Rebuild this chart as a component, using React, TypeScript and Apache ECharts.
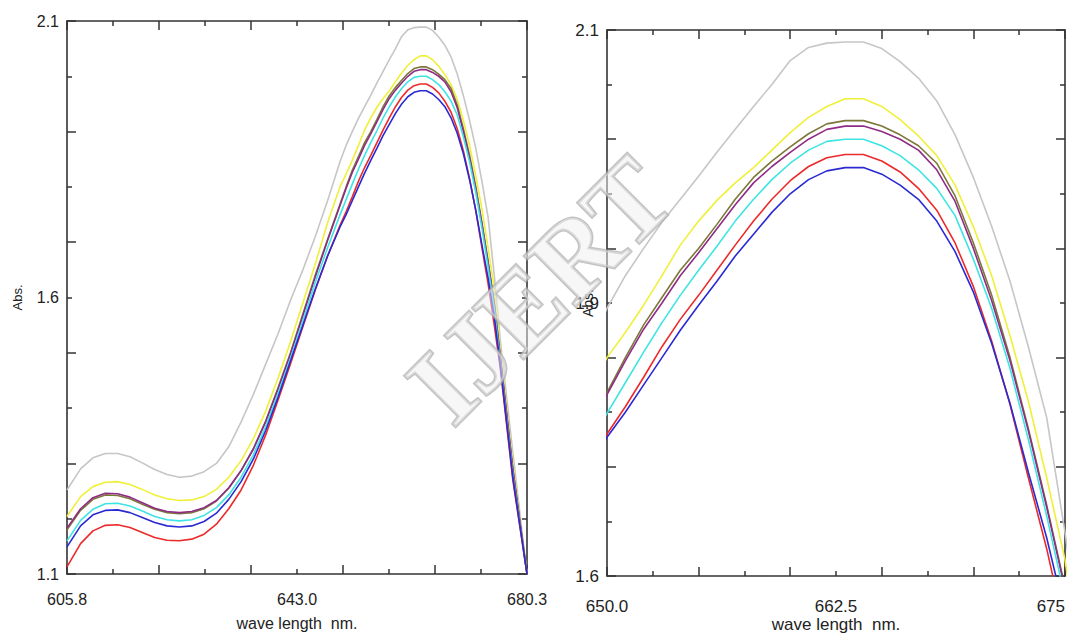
import React, { useEffect, useRef } from "react";
import * as echarts from "echarts";

// Wavelength grid (nm) shared by both panels
const WAVELENGTHS = [605.8, 608, 610, 612, 614, 616, 618, 620, 622, 624, 626, 628, 630, 632, 634, 636, 638, 640, 642, 644, 646, 648, 650,
  651, 652, 653, 654, 655, 656, 657, 658, 659, 660, 661, 662, 663, 664, 665, 666, 667, 668, 669, 670, 671, 672, 673, 674, 675,
  676, 678, 680.3];

const GRAY = [1.252, 1.29, 1.31, 1.318, 1.318, 1.312, 1.301, 1.289, 1.28, 1.275, 1.277, 1.285, 1.30, 1.33, 1.375, 1.425, 1.48, 1.535, 1.595, 1.65, 1.71, 1.775, 1.845,
  1.875, 1.90, 1.924, 1.945, 1.966, 1.988, 2.009, 2.03, 2.05, 2.072, 2.084, 2.088, 2.089, 2.089, 2.083, 2.071, 2.056, 2.035, 2.004, 1.965, 1.92, 1.87, 1.81, 1.745, 1.64,
  1.52, 1.32, 1.1];
const YELLOW = [1.204, 1.24, 1.258, 1.266, 1.267, 1.262, 1.253, 1.243, 1.236, 1.233, 1.234, 1.24, 1.253, 1.275, 1.305, 1.345, 1.395, 1.455, 1.52, 1.59, 1.66, 1.735, 1.80,
  1.823, 1.848, 1.875, 1.903, 1.925, 1.944, 1.96, 1.974, 1.99, 2.006, 2.02, 2.03, 2.037, 2.037, 2.03, 2.018, 2.003, 1.985, 1.958, 1.92, 1.875, 1.82, 1.76, 1.69, 1.615,
  1.50, 1.30, 1.1];
const OLIVE = [1.18, 1.215, 1.235, 1.243, 1.242, 1.236, 1.226, 1.217, 1.211, 1.209, 1.211, 1.218, 1.232, 1.255, 1.287, 1.327, 1.377, 1.437, 1.50, 1.57, 1.64, 1.705, 1.768,
  1.80, 1.83, 1.855, 1.88, 1.90, 1.922, 1.945, 1.965, 1.98, 1.993, 2.005, 2.014, 2.017, 2.017, 2.012, 2.004, 1.994, 1.978, 1.948, 1.905, 1.857, 1.80, 1.735, 1.665, 1.59,
  1.49, 1.29, 1.1];
const PURPLE = [1.183, 1.218, 1.238, 1.246, 1.245, 1.239, 1.229, 1.219, 1.213, 1.211, 1.213, 1.22, 1.233, 1.256, 1.287, 1.326, 1.376, 1.435, 1.498, 1.567, 1.637, 1.703, 1.766,
  1.797, 1.826, 1.85, 1.875, 1.896, 1.918, 1.94, 1.96, 1.975, 1.988, 2.0, 2.009, 2.012, 2.012, 2.007, 2.0, 1.99, 1.972, 1.943, 1.9, 1.852, 1.797, 1.733, 1.663, 1.588,
  1.49, 1.29, 1.1];
const CYAN = [1.16, 1.197, 1.217, 1.227, 1.228, 1.223, 1.214, 1.204, 1.198, 1.196, 1.198, 1.206, 1.22, 1.243, 1.275, 1.316, 1.367, 1.427, 1.49, 1.558, 1.627, 1.69, 1.749,
  1.777, 1.805, 1.832, 1.857, 1.88, 1.902, 1.925, 1.945, 1.963, 1.978, 1.99, 1.998, 2.0, 2.0, 1.994, 1.985, 1.972, 1.955, 1.93, 1.89, 1.845, 1.79, 1.725, 1.655, 1.58,
  1.48, 1.28, 1.1];
const RED = [1.113, 1.155, 1.178, 1.188, 1.189, 1.184, 1.175, 1.166, 1.161, 1.16, 1.163, 1.172, 1.19, 1.218, 1.252, 1.297, 1.352, 1.415, 1.48, 1.547, 1.613, 1.675, 1.73,
  1.755, 1.782, 1.81, 1.835, 1.857, 1.88, 1.903, 1.925, 1.945, 1.962, 1.975, 1.983, 1.986, 1.986, 1.98, 1.97, 1.955, 1.935, 1.905, 1.865, 1.815, 1.757, 1.69, 1.625, 1.55,
  1.47, 1.27, 1.1];
const BLUE = [1.149, 1.187, 1.207, 1.215, 1.216, 1.211, 1.202, 1.193, 1.187, 1.185, 1.187, 1.195, 1.21, 1.235, 1.267, 1.308, 1.36, 1.42, 1.485, 1.55, 1.615, 1.675, 1.727,
  1.75, 1.775, 1.80, 1.825, 1.848, 1.87, 1.893, 1.913, 1.933, 1.95, 1.963, 1.971, 1.974, 1.974, 1.968, 1.958, 1.945, 1.925, 1.897, 1.86, 1.813, 1.758, 1.695, 1.635, 1.565,
  1.475, 1.275, 1.1];

const SERIES = [
  { name: "s1", values: GRAY, color: "#c6c6c6" },
  { name: "s2", values: YELLOW, color: "#f0f03a" },
  { name: "s3", values: OLIVE, color: "#7c7838" },
  { name: "s4", values: PURPLE, color: "#8e2c86" },
  { name: "s5", values: CYAN, color: "#3ee4e4" },
  { name: "s6", values: RED, color: "#ec2a2a" },
  { name: "s7", values: BLUE, color: "#2a2ad4" },
];

// Axis ranges, major tick intervals (counted from min) and tick labels
const LEFT_X_RANGE = [605.8, 680.3];
const LEFT_X_INTERVAL = 14.9;
const LEFT_Y_RANGE = [1.1, 2.1];
const LEFT_Y_INTERVAL = 0.2;
const LEFT_X_LABEL_VALUES = [605.8, 643.05, 680.3];
const LEFT_X_LABELS = ["605.8", "643.0", "680.3"];
const LEFT_Y_LABEL_VALUES = [1.1, 1.6, 2.1];
const LEFT_Y_LABELS = ["1.1", "1.6", "2.1"];

const RIGHT_X_RANGE = [650, 675];
const RIGHT_X_INTERVAL = 5;
const RIGHT_Y_RANGE = [1.6, 2.1];
const RIGHT_Y_INTERVAL = 0.1;
const RIGHT_X_LABEL_VALUES = [650, 662.5, 675];
const RIGHT_X_LABELS = ["650.0", "662.5", "675"];
const RIGHT_Y_LABEL_VALUES = [1.6, 1.85, 2.1];
const RIGHT_Y_LABELS = ["1.6", "1.9", "2.1"];

const X_NAME = "wave length\u00a0 nm.";
const Y_NAME = "Abs.";

const AXIS_COLOR = "#333";
const TEXT_COLOR = "#222";
const FONT = '"Liberation Sans", Arial, sans-serif';

function labelFormatter(vals: number[], labels: string[]) {
  return (v: number) => {
    const i = vals.findIndex((x) => Math.abs(x - v) < 1e-6);
    return i >= 0 ? labels[i] : "";
  };
}

function buildPanel(
  g: number,
  xr: number[],
  xi: number,
  yr: number[],
  yi: number,
  xlv: number[],
  xl: string[],
  ylv: number[],
  yl: string[],
  fontSize: number,
  xMargin: number,
  xNameGap: number,
  yNameGap: number
) {
  const lineStyle = { color: AXIS_COLOR, width: 1.6 };
  const tickStyle = { color: AXIS_COLOR, width: 1.5 };
  const common = (min: number, max: number, interval: number, withLine: boolean) => ({
    gridIndex: g,
    type: "value" as const,
    min,
    max,
    interval,
    splitLine: { show: false },
    axisLine: { show: withLine, onZero: false, lineStyle },
    axisTick: { show: true, inside: true, length: 9, lineStyle: tickStyle },
    minorTick: { show: true, splitNumber: 2, length: 5, lineStyle: tickStyle },
  });
  const xAxes = [
    {
      ...common(xr[0], xr[1], xi, true),
      position: "bottom",
      axisLabel: {
        show: true, customValues: xlv, formatter: labelFormatter(xlv, xl), margin: xMargin,
        fontSize, color: TEXT_COLOR, fontFamily: FONT, alignMaxLabel: g === 1 ? "right" : undefined,
      },
      name: X_NAME, nameLocation: "middle", nameGap: xNameGap, nameMoveOverlap: false,
      nameTextStyle: { fontSize, color: TEXT_COLOR, fontFamily: FONT },
    },
    {
      ...common(xr[0], xr[1], xi, true),
      position: "top",
      axisLabel: { show: false },
    },
  ];
  const yAxes = [
    {
      ...common(yr[0], yr[1], yi, true),
      position: "left",
      axisLabel: {
        show: true, customValues: ylv, formatter: labelFormatter(ylv, yl), margin: 8,
        fontSize, color: TEXT_COLOR, fontFamily: FONT,
      },
      name: Y_NAME, nameLocation: "middle", nameGap: yNameGap, nameRotate: 90, nameMoveOverlap: false,
      nameTextStyle: { fontSize: fontSize - 3, color: TEXT_COLOR, fontFamily: FONT },
    },
    {
      ...common(yr[0], yr[1], yi, true),
      position: "right",
      axisLabel: { show: false },
    },
  ];
  const series = SERIES.map((s) => ({
    name: s.name + "_" + g,
    type: "line",
    xAxisIndex: g * 2,
    yAxisIndex: g * 2,
    showSymbol: false,
    symbol: "none",
    clip: true,
    silent: true,
    lineStyle: { color: s.color, width: 1.6 },
    itemStyle: { color: s.color },
    data: WAVELENGTHS.map((w, i) => [w, s.values[i]]),
  }));
  return { xAxes, yAxes, series };
}

export default function App() {
  const ref = useRef<HTMLDivElement>(null);
  useEffect(() => {
    if (!ref.current) return;
    const chart = echarts.init(ref.current, undefined, { renderer: "svg" });
    const left = buildPanel(0, LEFT_X_RANGE, LEFT_X_INTERVAL, LEFT_Y_RANGE, LEFT_Y_INTERVAL,
      LEFT_X_LABEL_VALUES, LEFT_X_LABELS, LEFT_Y_LABEL_VALUES, LEFT_Y_LABELS, 16, 17, 41, 43);
    const right = buildPanel(1, RIGHT_X_RANGE, RIGHT_X_INTERVAL, RIGHT_Y_RANGE, RIGHT_Y_INTERVAL,
      RIGHT_X_LABEL_VALUES, RIGHT_X_LABELS, RIGHT_Y_LABEL_VALUES, RIGHT_Y_LABELS, 17, 22, 40, 12);
    chart.setOption({
      animation: false,
      backgroundColor: "#ffffff",
      grid: [
        { left: 67, top: 21, width: 460, height: 553 },
        { left: 607, top: 30, width: 458, height: 553 },
      ],
      xAxis: [...left.xAxes, ...right.xAxes],
      yAxis: [...left.yAxes, ...right.yAxes],
      series: [...left.series, ...right.series],
      graphic: [
        {
          type: "text",
          x: 540,
          y: 290,
          rotation: Math.PI / 4,
          z: 100,
          silent: true,
          style: {
            text: "IJERT",
            font: 'bold 110px "Liberation Serif", serif',
            fill: "rgba(240,240,240,0.5)",
            stroke: "rgba(175,175,175,0.75)",
            lineWidth: 3,
            align: "center",
            verticalAlign: "middle",
          },
        },
      ],
    });
    return () => chart.dispose();
  }, []);
  return (
    <div
      ref={ref}
      style={{ position: "absolute", left: 0, top: 0, width: 1070, height: 638, background: "#fff" }}
    />
  );
}
